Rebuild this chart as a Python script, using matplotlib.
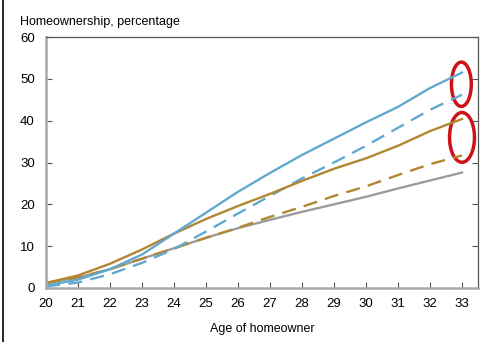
import matplotlib
matplotlib.use("Agg")
import matplotlib.pyplot as plt
from matplotlib.patches import Ellipse
from matplotlib.lines import Line2D

ages = list(range(20, 34))
blue_solid = [0.6, 2.0, 4.5, 8.0, 13.0, 18.0, 23.0, 27.5, 31.8, 35.7, 39.6, 43.3, 47.8, 51.5]
blue_dashed = [0.4, 1.3, 3.3, 6.0, 9.3, 13.5, 17.8, 22.0, 26.2, 30.0, 34.0, 38.3, 42.6, 46.2]
orange_solid = [1.2, 3.0, 5.8, 9.2, 13.0, 16.5, 19.6, 22.5, 25.6, 28.5, 31.0, 34.0, 37.5, 40.4]
orange_dashed = [1.2, 2.5, 4.5, 7.0, 9.5, 12.0, 14.4, 17.0, 19.4, 22.0, 24.3, 27.0, 29.6, 31.7]
gray_solid = [1.2, 2.5, 4.5, 7.0, 9.5, 12.0, 14.3, 16.3, 18.2, 20.0, 21.8, 23.8, 25.7, 27.6]
yticks = [0, 10, 20, 30, 40, 50, 60]
xticks = list(range(20, 34))
title = "Homeownership, percentage"
xlabel = "Age of homeowner"
# highlighted regions (center x, center y, width, height) in data units
ellipses = [(32.98, 48.7, 0.62, 10.6), (33.0, 36.0, 0.78, 11.9)]

plt.rcParams['font.family'] = ['Liberation Sans', 'DejaVu Sans']

fig = plt.figure(figsize=(4.92, 3.42), dpi=100)
ax = fig.add_axes([46/492, 1-288/342, (478-46)/492, (288-37)/342])

c_blue = "#62A9CF"
c_orange = "#B38631"
c_gray = "#9C9C9E"
lw = 1.7
ax.plot(ages, gray_solid, color=c_gray, lw=lw)
ax.plot(ages, orange_dashed, color=c_orange, lw=lw, ls=(0, (6, 3.5)))
ax.plot(ages, blue_dashed, color=c_blue, lw=lw, ls=(0, (6, 3.5)))
ax.plot(ages, orange_solid, color=c_orange, lw=lw)
ax.plot(ages, blue_solid, color=c_blue, lw=lw)

for cx, cy, w, h in ellipses:
    ax.add_patch(Ellipse((cx, cy), w, h, fill=False, edgecolor="#CC1418", lw=2.5, clip_on=False))

ax.set_xlim(20, 33.5)
ax.set_ylim(0, 60)
ax.set_xticks(xticks)
ax.set_yticks(yticks)
ax.tick_params(axis='x', direction='in', length=4, color='#555555', labelsize=9.5, pad=7)
ax.tick_params(axis='y', direction='in', length=4, color='#555555', labelsize=9.5, right=True, pad=8)
for s in ['top', 'right']:
    ax.spines[s].set_color('#555555')
    ax.spines[s].set_linewidth(0.9)
for s in ['left', 'bottom']:
    ax.spines[s].set_color('#A8A8A8')
    ax.spines[s].set_linewidth(1.8)

fig.text(20/492, 1-22/342, title, fontsize=9, va='center', ha='left')
fig.text(262/492, 1-329/342, xlabel, fontsize=9, va='center', ha='center')

fig.add_artist(Line2D([2.5/492, 2.5/492], [0, 1], color='black', lw=1.2, transform=fig.transFigure))

fig.savefig("out.png", dpi=100)
